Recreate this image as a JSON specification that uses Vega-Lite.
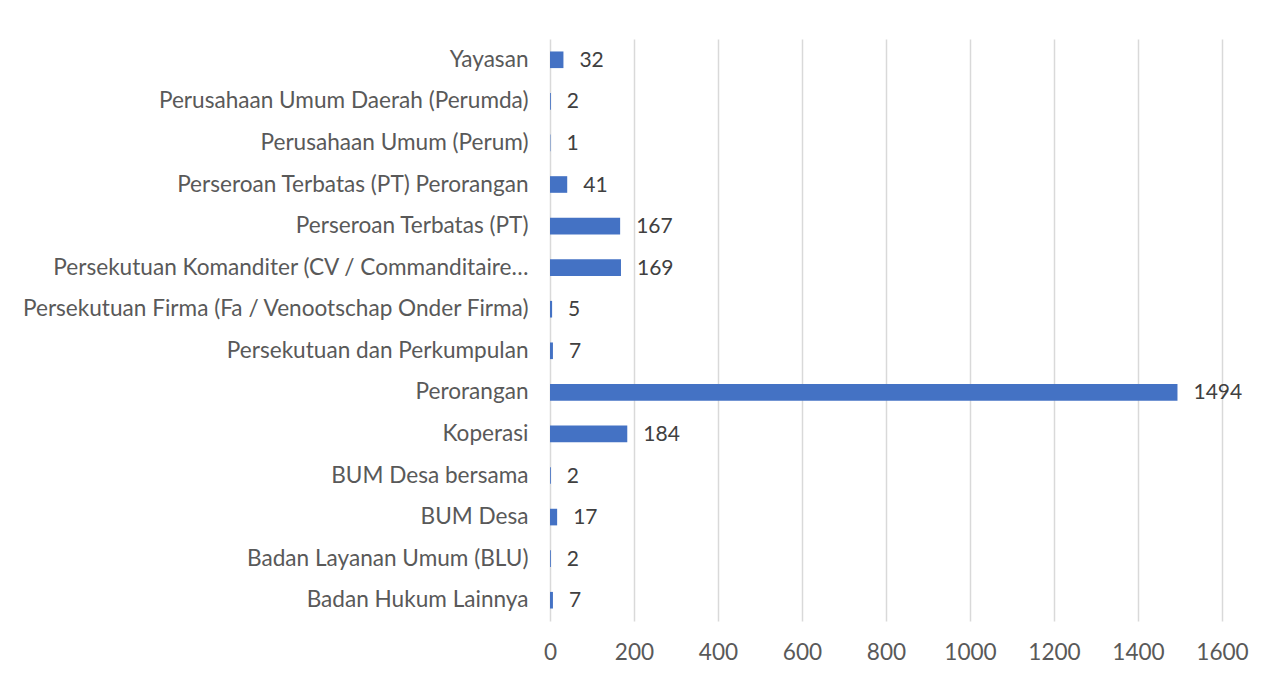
{
  "$schema": "https://vega.github.io/schema/vega-lite/v6.json",
  "width": 672,
  "height": 582,
  "autosize": {"type": "none"},
  "padding": {"left": 550, "top": 39, "right": 54, "bottom": 53},
  "background": "white",
  "config": {
    "view": {"stroke": null},
    "font": "Lato",
    "axis": {"labelFont": "Lato", "labelColor": "#595959", "labelFontSize": 22.6}
  },
  "data": {
    "values": [
      {"category": "Yayasan", "value": 32},
      {"category": "Perusahaan Umum Daerah (Perumda)", "value": 2},
      {"category": "Perusahaan Umum (Perum)", "value": 1},
      {"category": "Perseroan Terbatas (PT) Perorangan", "value": 41},
      {"category": "Perseroan Terbatas (PT)", "value": 167},
      {"category": "Persekutuan Komanditer (CV / Commanditaire…", "value": 169},
      {"category": "Persekutuan Firma (Fa / Venootschap Onder Firma)", "value": 5},
      {"category": "Persekutuan dan Perkumpulan", "value": 7},
      {"category": "Perorangan", "value": 1494},
      {"category": "Koperasi", "value": 184},
      {"category": "BUM Desa bersama", "value": 2},
      {"category": "BUM Desa", "value": 17},
      {"category": "Badan Layanan Umum (BLU)", "value": 2},
      {"category": "Badan Hukum Lainnya", "value": 7}
    ]
  },
  "encoding": {
    "y": {
      "field": "category",
      "type": "nominal",
      "sort": null,
      "scale": {"paddingInner": 0.6, "paddingOuter": 0.3},
      "axis": {"title": null, "ticks": false, "domain": false, "labelPadding": 22, "labelLimit": 600}
    }
  },
  "layer": [
    {
      "mark": {"type": "bar", "color": "#4472C4"},
      "encoding": {
        "x": {
          "field": "value",
          "type": "quantitative",
          "scale": {"domain": [0, 1600], "nice": false},
          "axis": {
            "title": null,
            "values": [0, 200, 400, 600, 800, 1000, 1200, 1400, 1600],
            "format": "d",
            "labelFlush": false,
            "labelOverlap": false,
            "grid": true,
            "gridColor": "#d9d9d9",
            "gridWidth": 1.5,
            "ticks": false,
            "domain": false,
            "labelPadding": 20
          }
        }
      }
    },
    {
      "mark": {"type": "text", "align": "left", "baseline": "middle", "dy": 1, "dx": 16, "fontSize": 21, "color": "#404040", "font": "Lato"},
      "encoding": {
        "x": {"field": "value", "type": "quantitative"},
        "text": {"field": "value", "type": "quantitative"}
      }
    }
  ]
}
